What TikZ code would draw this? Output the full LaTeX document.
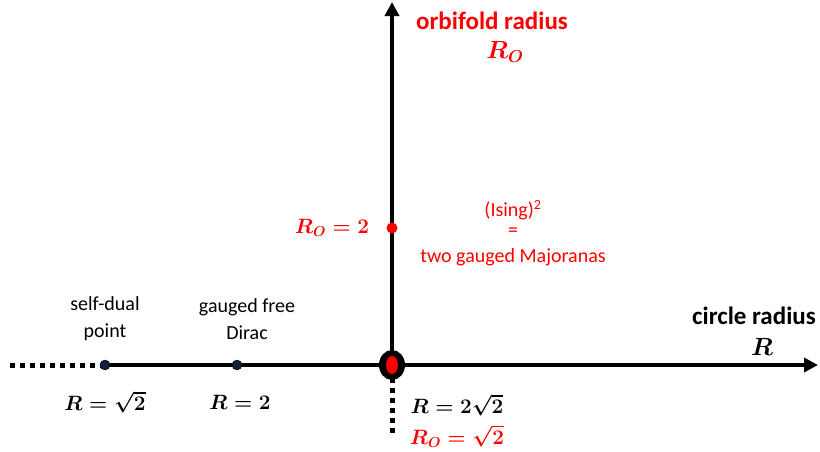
\documentclass[tikz,border=0pt]{standalone}
\usepackage{fontspec}
\setmainfont{Carlito}
\usepackage{amsmath,bm}
\usetikzlibrary{arrows.meta}
\definecolor{pred}{RGB}{255,0,0}
\definecolor{dnavy}{RGB}{20,30,60}
\begin{document}
\begin{tikzpicture}[x=1pt,y=-1pt,
  axis/.style={line width=4pt,-{Triangle[length=14pt,width=14pt]}},
  dotline/.style={line width=5pt,dash pattern=on 5pt off 5pt},
  lbl/.style={font=\fontsize{20}{27}\selectfont,align=center},
  redlbl/.style={lbl,text=pred},
  ttl/.style={font=\fontsize{25}{28}\selectfont\bfseries,align=center},
  mth/.style={font=\fontsize{20}{24}\selectfont\boldmath},
  bigmth/.style={font=\fontsize{23}{26}\selectfont\boldmath},
  smalldot/.style={circle,fill=dnavy,draw=black,inner sep=0pt,minimum size=10pt}]
\useasboundingbox (0,0) rectangle (820,451);
\coordinate (O) at (392,365);
\coordinate (L) at (10,365);
\coordinate (S) at (105,365);
\coordinate (E) at (818,365);
\coordinate (T) at (392,2);
\coordinate (B) at (392,436);
\draw[dotline] (L) -- (S);
\draw[axis] (S) -- (E);
\draw[dotline] (392,378) -- (B);
\draw[axis] (O) -- (T);
\node[smalldot] (sd) at (S) {};
\node[smalldot] (gd) at (237,365) {};
\node[circle,fill=pred,inner sep=0pt,minimum size=11pt] (rd) at (392,228) {};
\fill[black] (O) ellipse [x radius=13pt,y radius=15pt];
\fill[pred] (O) ellipse [x radius=6pt,y radius=9pt];
\node[ttl,text=pred] (orb) at (492,21) {orbifold radius};
\node[bigmth,text=pred] (orbR) at (505,52) {$\bm{R_O}$};
\node[ttl] (cir) at (754,316) {circle radius};
\node[bigmth] (cirR) at (762,347) {$\bm{R}$};
\node[mth,text=pred] (r2) at (332,228) {$\bm{R_O=2}$};
\node[redlbl] (is) at (513,210) {(Ising)$^{\text{2}}$};
\node[redlbl] (eq) at (513,232) {=};
\node[redlbl] (tg) at (513,257) {two gauged Majoranas};
\node[lbl] (sdl) at (105,319) {self-dual\\point};
\node[lbl] (gdl) at (247,319) {gauged free\\Dirac};
\node[mth] (rs) at (105,402) {$\bm{R=\sqrt{2}}$};
\node[mth] (r2b) at (240,402) {$\bm{R=2}$};
\node[mth] (r22) at (457,405) {$\bm{R=2\sqrt{2}}$};
\node[mth,text=pred] (ro) at (457,436) {$\bm{R_O=\sqrt{2}}$};
\end{tikzpicture}
\end{document}
